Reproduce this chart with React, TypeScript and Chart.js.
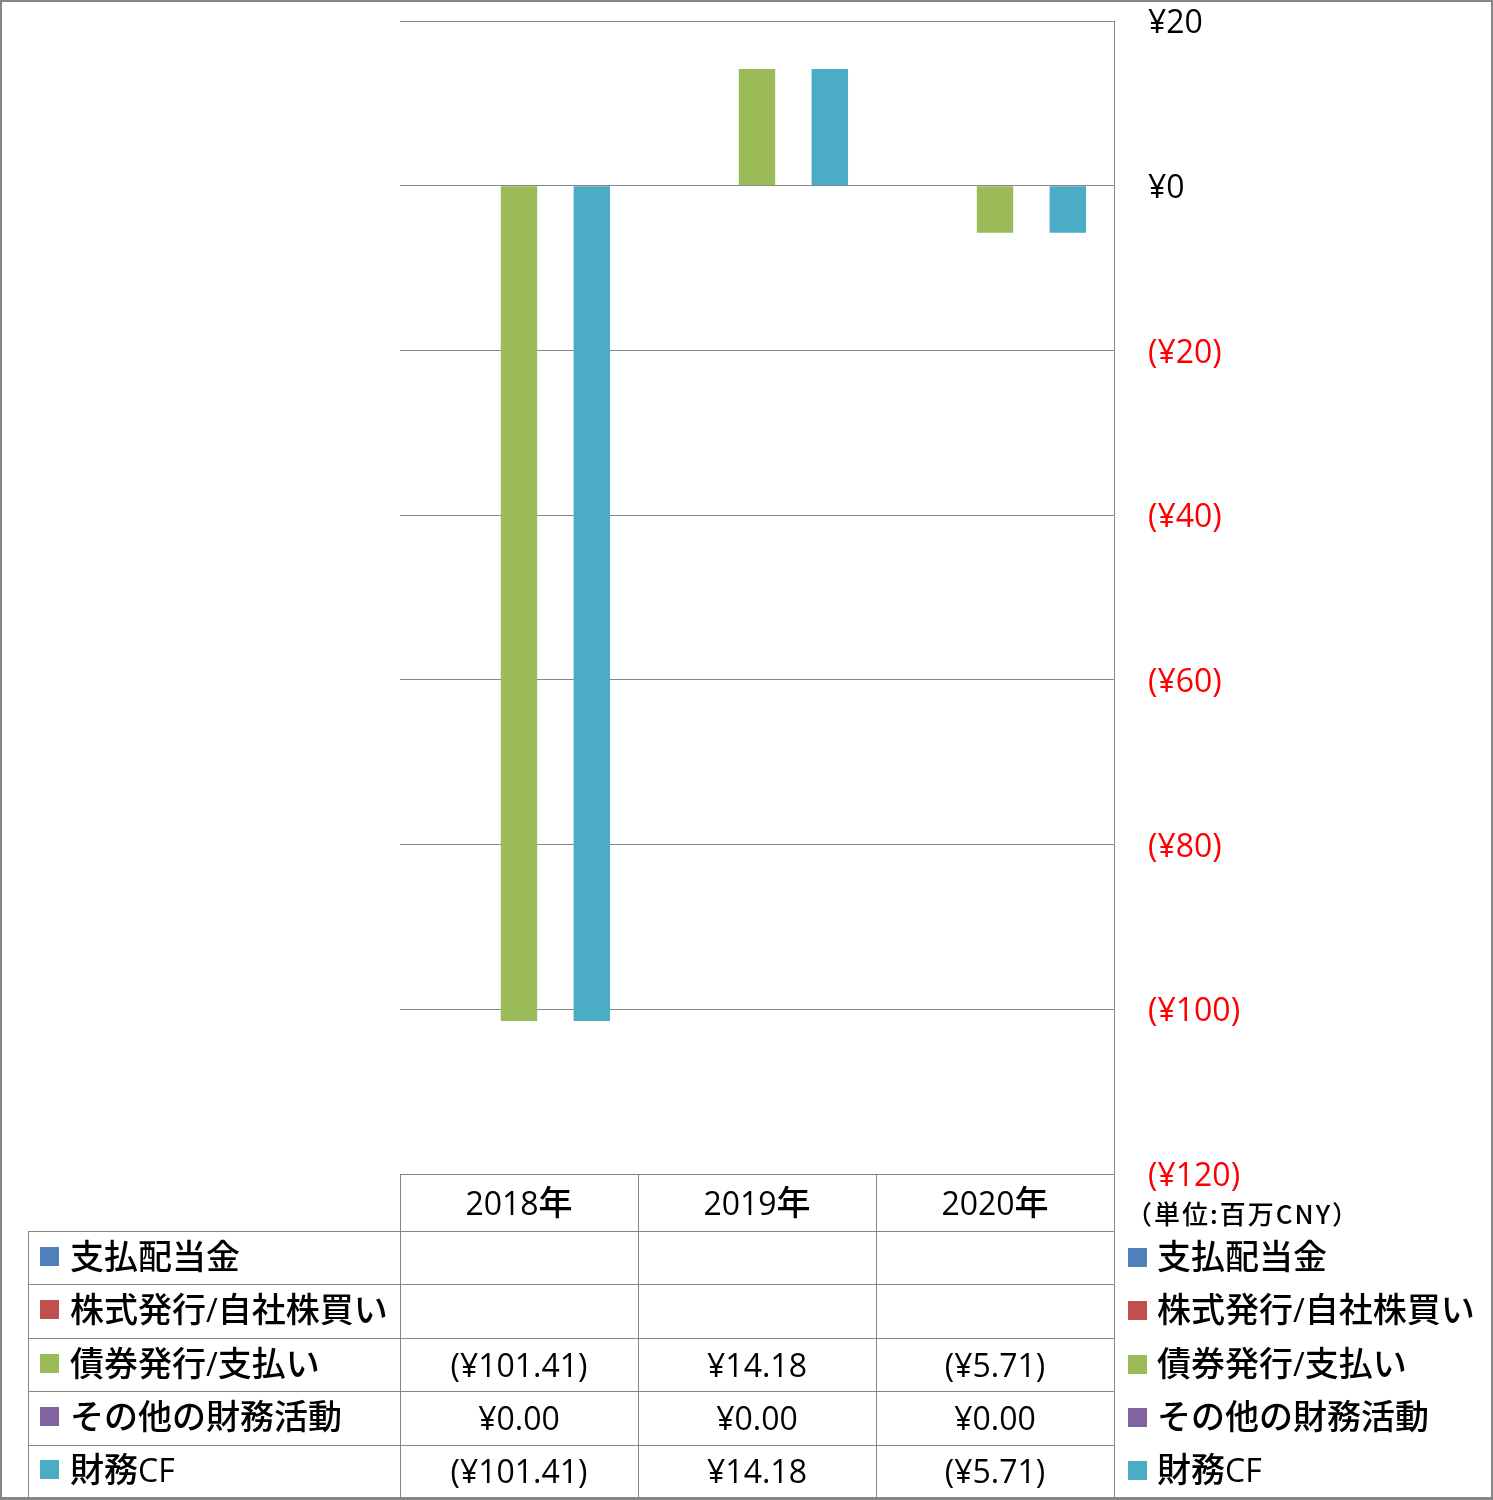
import React, { useEffect, useRef } from "react";
import { Chart, registerables } from "chart.js";

Chart.register(...registerables);

const categories = ["2018年", "2019年", "2020年"];
const seriesNames = ["支払配当金", "株式発行/自社株買い", "債券発行/支払い", "その他の財務活動", "財務CF"];
const seriesColors = ["#4F81BD", "#C0504D", "#9BBB59", "#8064A2", "#4BACC6"];
const dividends: (number | null)[] = [null, null, null];
const shareIssuance: (number | null)[] = [null, null, null];
const debtIssuance: (number | null)[] = [-101.41, 14.18, -5.71];
const otherFinancing: (number | null)[] = [0, 0, 0];
const financingCF: (number | null)[] = [-101.41, 14.18, -5.71];
const seriesValues = [dividends, shareIssuance, debtIssuance, otherFinancing, financingCF];
const yMin = -120;
const yMax = 20;
const yStep = 20;
const unitLabel = "（単位:百万CNY）";

const LATIN = '"Open Sans", "Noto Sans CJK JP", sans-serif';
const CJK = '"Noto Sans CJK JP", sans-serif';
const LINE = "#868686";

const fmtMoney = (v: number, dec: number) => {
  const s = "¥" + Math.abs(v).toFixed(dec);
  return v < 0 ? "(" + s + ")" : s;
};

const isCJK = (ch: string) => /[\u3000-\u30ff\u4e00-\u9fff\uff00-\uffef]/.test(ch);

function drawMixed(ctx: CanvasRenderingContext2D, text: string, x: number, y: number, align: "left" | "center", latinSize = 32, cjkSize = 34) {
  const runs: { t: string; cjk: boolean }[] = [];
  for (const ch of text) {
    const c = isCJK(ch);
    if (runs.length && runs[runs.length - 1].cjk === c) runs[runs.length - 1].t += ch;
    else runs.push({ t: ch, cjk: c });
  }
  const fontOf = (c: boolean) => (c ? `500 ${cjkSize}px ${CJK}` : `${latinSize}px ${LATIN}`);
  let total = 0;
  const widths = runs.map((r) => {
    ctx.font = fontOf(r.cjk);
    const w = ctx.measureText(r.t).width;
    total += w;
    return w;
  });
  let cx = align === "center" ? x - total / 2 : x;
  ctx.textAlign = "left";
  ctx.textBaseline = "alphabetic";
  runs.forEach((r, i) => {
    ctx.font = fontOf(r.cjk);
    ctx.fillText(r.t, cx, y);
    cx += widths[i];
  });
}

const tablePlugin = {
  id: "dataTable",
  afterDraw(chart: any) {
    const ctx: CanvasRenderingContext2D = chart.ctx;
    const { left, right, top, bottom } = chart.chartArea;
    const W = chart.width;
    const H = chart.height;
    const tableBottom = H - 2;
    const headerH = 57;
    const rowH = (tableBottom - (bottom + headerH)) / seriesNames.length;
    const colW = (right - left) / categories.length;
    const legendLeft = 28;
    const px = (v: number) => Math.round(v) + 0.5;

    ctx.save();
    ctx.strokeStyle = LINE;
    ctx.lineWidth = 1;
    ctx.beginPath();
    ctx.moveTo(px(right), top);
    ctx.lineTo(px(right), tableBottom);
    ctx.moveTo(left, px(bottom));
    ctx.lineTo(right, px(bottom));
    for (let i = 0; i <= categories.length; i++) {
      const x = px(left + colW * i);
      ctx.moveTo(x, bottom);
      ctx.lineTo(x, tableBottom);
    }
    ctx.moveTo(px(legendLeft), bottom + headerH);
    ctx.lineTo(px(legendLeft), tableBottom);
    for (let r = 0; r <= seriesNames.length; r++) {
      const y = px(bottom + headerH + rowH * r);
      ctx.moveTo(legendLeft, y);
      ctx.lineTo(right, y);
    }
    ctx.stroke();

    ctx.fillStyle = "#000";
    categories.forEach((c, i) => {
      drawMixed(ctx, c, left + colW * (i + 0.5), bottom + headerH / 2 + 12, "center");
    });
    seriesNames.forEach((name, r) => {
      const cy = bottom + headerH + rowH * (r + 0.5);
      ctx.fillStyle = seriesColors[r];
      ctx.fillRect(40, Math.round(cy - 11), 19, 19);
      ctx.fillRect(1128, Math.round(cy - 10), 19, 19);
      ctx.fillStyle = "#000";
      drawMixed(ctx, name, 70, cy + 11, "left");
      drawMixed(ctx, name, 1157, cy + 11, "left");
      seriesValues[r].forEach((v, i) => {
        if (v === null || v === undefined) return;
        drawMixed(ctx, fmtMoney(v, 2), left + colW * (i + 0.5), cy + 12, "center");
      });
    });
    ctx.fillStyle = "#000";
    ctx.font = `500 26px ${CJK}`;
    ctx.textAlign = "left";
    ctx.textBaseline = "alphabetic";
    (ctx as any).letterSpacing = "2px";
    ctx.fillText(unitLabel, 1126, bottom + 50);
    (ctx as any).letterSpacing = "0px";

    ctx.fillStyle = LINE;
    ctx.fillRect(0, 0, W, 2);
    ctx.fillRect(0, 0, 2, H);
    ctx.fillRect(W - 2, 0, 2, H);
    ctx.fillRect(0, H - 3, W, 3);
    ctx.restore();
  },
};

export default function App() {
  const canvasRef = useRef<HTMLCanvasElement | null>(null);

  useEffect(() => {
    document.body.style.margin = "0";
    const canvas = canvasRef.current;
    if (!canvas) return;
    const chart = new Chart(canvas, {
      type: "bar",
      data: {
        labels: categories,
        datasets: seriesNames.map((name, i) => ({
          label: name,
          data: seriesValues[i] as any,
          backgroundColor: seriesColors[i],
          borderWidth: 0,
          categoryPercentage: 0.765,
          barPercentage: 1.0,
        })),
      },
      options: {
        responsive: false,
        animation: false,
        devicePixelRatio: 1,
        layout: { padding: { left: 400, top: 21, right: 0, bottom: 326 } },
        plugins: {
          legend: { display: false },
          tooltip: { enabled: false },
          title: { display: false },
        },
        scales: {
          x: { display: false },
          y: {
            position: "right",
            min: yMin,
            max: yMax,
            ticks: {
              stepSize: yStep,
              padding: 34,
              labelOffset: 3,
              font: { family: LATIN, size: 32 },
              color: (c: any) => (c.tick && c.tick.value < 0 ? "#FF0000" : "#000000"),
              callback: (v: any) => fmtMoney(Number(v), 0),
            },
            grid: { color: LINE, drawTicks: false, lineWidth: 1 },
            border: { display: false },
            afterFit: (s: any) => {
              s.width = 379;
              s.paddingTop = 0;
              s.paddingBottom = 0;
            },
          },
        },
      },
      plugins: [tablePlugin],
    });
    return () => chart.destroy();
  }, []);

  return (
    <div style={{ width: 1493, height: 1500, background: "#fff" }}>
      <canvas ref={canvasRef} width={1493} height={1500} style={{ display: "block" }} />
    </div>
  );
}
